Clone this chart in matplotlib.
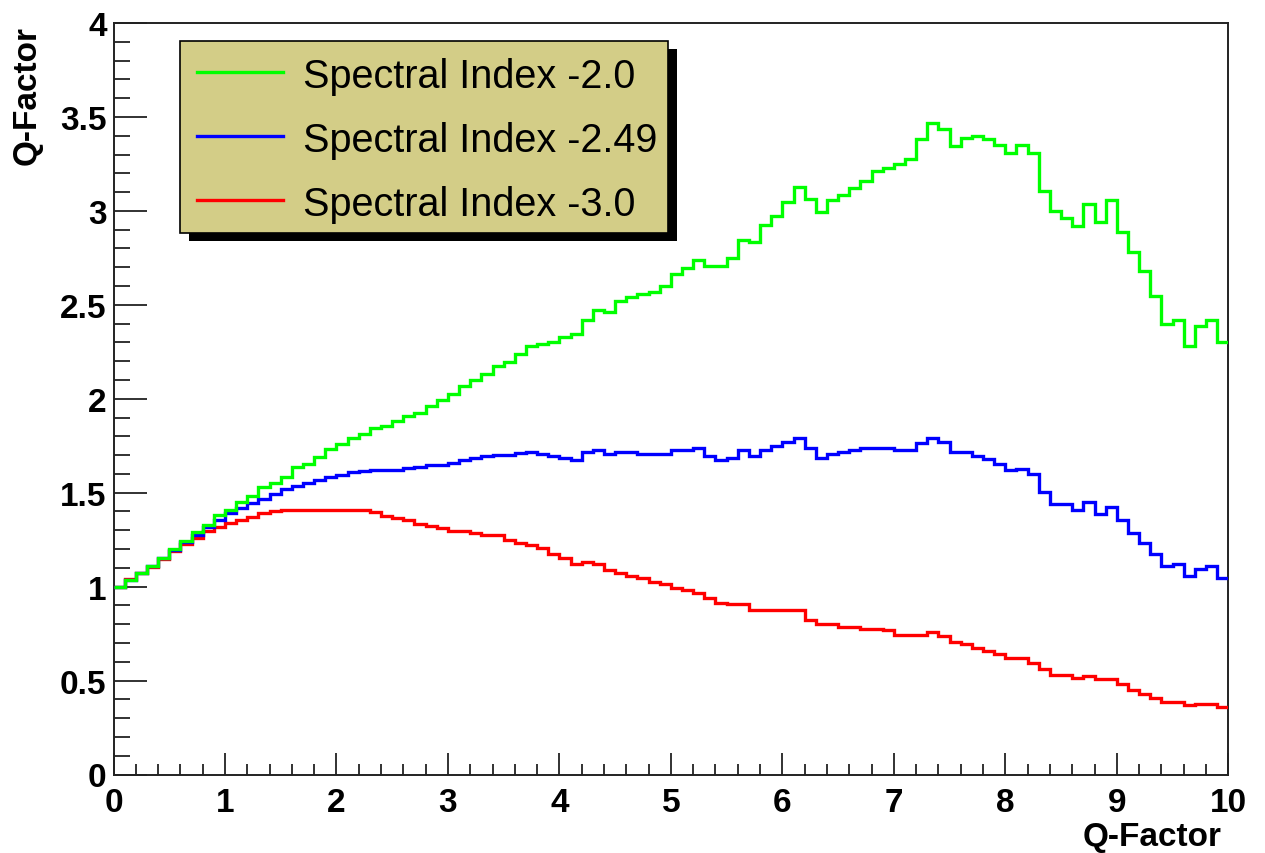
import numpy as np
import matplotlib
matplotlib.use("Agg")
import matplotlib.pyplot as plt
from matplotlib.patches import Rectangle
from matplotlib.lines import Line2D
from matplotlib.ticker import MultipleLocator, FuncFormatter

# Histogram binning: 100 bins between 0 and 10
x_min, x_max, n_bins = 0.0, 10.0, 100

labels = ["Spectral Index -2.0", "Spectral Index -2.49", "Spectral Index -3.0"]
colors = ["#00ff00", "#0000ff", "#ff0000"]

q_index_2p0 = [
    1.00, 1.035, 1.07, 1.11, 1.15, 1.20, 1.245, 1.29, 1.33, 1.38,
    1.41, 1.45, 1.485, 1.53, 1.55, 1.585, 1.635, 1.655, 1.69, 1.73,
    1.758, 1.790, 1.811, 1.843, 1.856, 1.879, 1.909, 1.922, 1.959, 1.993,
    2.025, 2.069, 2.099, 2.131, 2.176, 2.193, 2.238, 2.281, 2.291, 2.304,
    2.327, 2.345, 2.419, 2.474, 2.460, 2.519, 2.540, 2.558, 2.570, 2.600,
    2.666, 2.696, 2.739, 2.709, 2.709, 2.750, 2.846, 2.835, 2.926, 2.975,
    3.046, 3.126, 3.061, 2.993, 3.059, 3.082, 3.123, 3.158, 3.210, 3.229,
    3.251, 3.274, 3.380, 3.467, 3.434, 3.347, 3.388, 3.400, 3.381, 3.348,
    3.308, 3.348, 3.308, 3.105, 2.997, 2.963, 2.922, 3.037, 2.940, 3.059,
    2.886, 2.783, 2.679, 2.545, 2.398, 2.421, 2.282, 2.389, 2.421, 2.300,
]

q_index_2p49 = [
    1.00, 1.035, 1.07, 1.11, 1.15, 1.195, 1.24, 1.275, 1.316, 1.355,
    1.391, 1.417, 1.444, 1.467, 1.494, 1.517, 1.538, 1.551, 1.565, 1.586,
    1.594, 1.610, 1.615, 1.622, 1.622, 1.622, 1.633, 1.636, 1.645, 1.648,
    1.660, 1.673, 1.684, 1.696, 1.700, 1.700, 1.710, 1.717, 1.708, 1.696,
    1.684, 1.673, 1.717, 1.728, 1.705, 1.717, 1.717, 1.708, 1.708, 1.706,
    1.727, 1.727, 1.737, 1.696, 1.675, 1.684, 1.728, 1.696, 1.728, 1.749,
    1.772, 1.790, 1.737, 1.684, 1.708, 1.719, 1.728, 1.737, 1.737, 1.737,
    1.728, 1.728, 1.762, 1.790, 1.772, 1.719, 1.719, 1.696, 1.677, 1.652,
    1.620, 1.625, 1.602, 1.504, 1.438, 1.438, 1.408, 1.453, 1.389, 1.424,
    1.353, 1.287, 1.234, 1.172, 1.110, 1.118, 1.056, 1.092, 1.110, 1.044,
]

q_index_3p0 = [
    1.00, 1.041, 1.07, 1.105, 1.145, 1.192, 1.227, 1.259, 1.295, 1.320,
    1.339, 1.355, 1.373, 1.391, 1.400, 1.408, 1.408, 1.408, 1.408, 1.407,
    1.406, 1.406, 1.406, 1.395, 1.377, 1.366, 1.352, 1.335, 1.324, 1.312,
    1.298, 1.296, 1.287, 1.275, 1.275, 1.246, 1.234, 1.221, 1.207, 1.175,
    1.150, 1.118, 1.131, 1.122, 1.087, 1.071, 1.056, 1.044, 1.024, 1.013,
    0.992, 0.980, 0.967, 0.937, 0.914, 0.905, 0.905, 0.873, 0.873, 0.873,
    0.873, 0.873, 0.825, 0.799, 0.799, 0.786, 0.786, 0.777, 0.777, 0.767,
    0.745, 0.745, 0.745, 0.758, 0.737, 0.706, 0.692, 0.674, 0.660, 0.642,
    0.621, 0.621, 0.594, 0.559, 0.532, 0.532, 0.514, 0.523, 0.506, 0.506,
    0.482, 0.452, 0.426, 0.408, 0.386, 0.386, 0.369, 0.376, 0.376, 0.358,
]

series = [q_index_2p0, q_index_2p49, q_index_3p0]

W, H = 1265, 854
plt.rcParams["font.family"] = ["Liberation Sans", "DejaVu Sans"]

fig = plt.figure(figsize=(W / 100, H / 100), dpi=100)
fig.patch.set_facecolor("white")


def fx(px):
    return px / W


def fy(py):
    return 1 - py / H


ax = fig.add_axes([fx(113.5), fy(775.5), fx(1228.3) - fx(113.5), fy(24) - fy(775.5)])

edges = np.linspace(x_min, x_max, n_bins + 1)
# draw the steepest-falling spectrum first so the hardest one sits on top
for vals, col in reversed(list(zip(series, colors))):
    ax.stairs(vals, edges, color=col, linewidth=2.4, baseline=None, zorder=3)

ax.set_xlim(x_min, x_max)
ax.set_ylim(0, 4)

ax.xaxis.set_major_locator(MultipleLocator(1))
ax.xaxis.set_minor_locator(MultipleLocator(0.2))
ax.yaxis.set_major_locator(MultipleLocator(0.5))
ax.yaxis.set_minor_locator(MultipleLocator(0.1))
ax.yaxis.set_major_formatter(FuncFormatter(lambda v, p: f"{v:g}"))
ax.xaxis.set_major_formatter(FuncFormatter(lambda v, p: f"{v:g}"))

for sp in ax.spines.values():
    sp.set_linewidth(1.4)
    sp.set_color("#222222")

ax.tick_params(axis="both", which="both", direction="in", top=False, right=False,
               color="#222222", width=1.3)
ax.tick_params(axis="x", which="major", length=15.5, pad=9)
ax.tick_params(axis="x", which="minor", length=7.8)
ax.tick_params(axis="y", which="major", length=23.5, pad=5)
ax.tick_params(axis="y", which="minor", length=11.5)
for lab in ax.get_xticklabels() + ax.get_yticklabels():
    lab.set_fontsize(24)
    lab.set_fontweight("bold")

# axis titles
fig.text(fx(1222), fy(846), "Q-Factor", ha="right", va="baseline",
         fontsize=24, fontweight="bold")
fig.text(fx(27), fy(26), "Q-Factor", ha="center", va="top", rotation=90,
         fontsize=24, fontweight="bold")

# legend box with a solid drop shadow
bx0, by0, bx1, by1 = 180, 42, 668, 234
shadow = Rectangle((fx(bx0 + 9), fy(by1 + 8)), fx(bx1 - bx0), fy(by0) - fy(by1),
                   transform=fig.transFigure, facecolor="black", edgecolor="none", zorder=5)
box = Rectangle((fx(bx0), fy(by1)), fx(bx1 - bx0), fy(by0) - fy(by1),
                transform=fig.transFigure, facecolor="#d3cd87", edgecolor="black",
                linewidth=1.2, zorder=6)
fig.add_artist(shadow)
fig.add_artist(box)

row_y = [73, 137, 201]
for lab, col, yy in zip(labels, colors, row_y):
    fig.add_artist(Line2D([fx(197), fx(283)], [fy(yy), fy(yy)], transform=fig.transFigure,
                          color=col, linewidth=2.4, zorder=7))
    fig.text(fx(303), fy(yy), lab, ha="left", va="center_baseline", fontsize=28.5,
             color="black", zorder=7)

fig.savefig("out.png", dpi=100, facecolor="white")
